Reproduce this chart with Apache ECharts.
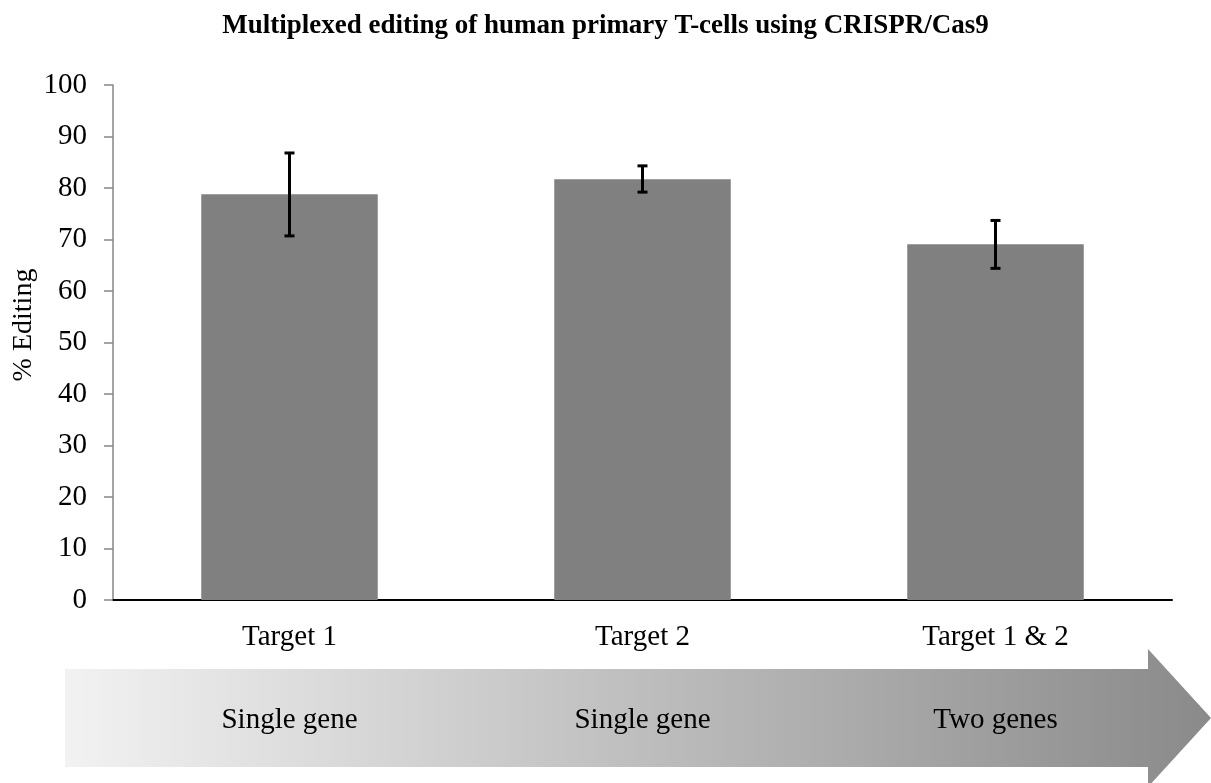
<!DOCTYPE html>
<html>
<head>
<meta charset="utf-8">
<script src="https://cdn.jsdelivr.net/npm/echarts@6/dist/echarts.min.js"></script>
<style>
  html, body { margin: 0; padding: 0; background: #fff; }
  #chart { width: 1211px; height: 783px; }
</style>
</head>
<body>
<div id="chart"></div>
<script>
// data
var categories = ['Target 1', 'Target 2', 'Target 1 & 2'];
var editing = [78.8, 81.7, 69.1];
var errLow = [70.7, 79.2, 64.4];
var errHigh = [86.8, 84.3, 73.7];
var groupLabels = ['Single gene', 'Single gene', 'Two genes'];
var yTicks = [0, 10, 20, 30, 40, 50, 60, 70, 80, 90, 100];

var serif = 'Liberation Serif';
var myChart = echarts.init(document.getElementById('chart'));

var errData = categories.map(function (c, i) {
  return [i, errLow[i], errHigh[i]];
});

myChart.setOption({
  animation: false,
  title: {
    text: 'Multiplexed editing of human primary T-cells using CRISPR/Cas9',
    left: 'center',
    top: 8,
    textStyle: { fontFamily: serif, fontWeight: 'bold', fontSize: 27, color: '#000' }
  },
  grid: { left: 113, right: 39, top: 85, bottom: 183, outerBoundsMode: 'none', containLabel: false },
  graphic: [
    {
      type: 'polygon',
      z: -1,
      shape: {
        points: [[65, 669], [1148, 669], [1148, 649], [1211, 718], [1148, 787], [1148, 767], [65, 767]]
      },
      style: {
        fill: new echarts.graphic.LinearGradient(0, 0, 1, 0, [
          { offset: 0, color: '#f2f2f2' },
          { offset: 1, color: '#8a8a8a' }
        ])
      }
    },
    {
      // y axis title
      type: 'text',
      x: 24,
      y: 325,
      rotation: Math.PI / 2,
      style: {
        text: '% Editing',
        font: '28px "Liberation Serif"',
        fill: '#000',
        align: 'center',
        verticalAlign: 'middle'
      }
    }
  ],
  xAxis: [
    {
      type: 'category',
      data: categories,
      axisTick: { show: false },
      axisLine: { lineStyle: { color: '#000', width: 2 } },
      axisLabel: { fontFamily: serif, fontSize: 29, color: '#000', margin: 23 }
    },
    {
      type: 'category',
      data: groupLabels,
      position: 'bottom',
      offset: 106,
      axisTick: { show: false },
      axisLine: { show: false },
      axisLabel: { fontFamily: serif, fontSize: 29, color: '#000', margin: 0 }
    }
  ],
  yAxis: {
    type: 'value',
    min: 0,
    max: 100,
    interval: 10,
    splitLine: { show: false },
    axisLine: { show: true, lineStyle: { color: '#868686', width: 1.5 } },
    axisTick: { show: true, length: 9, lineStyle: { color: '#868686', width: 1.5 } },
    axisLabel: {
      fontFamily: serif, fontSize: 29, color: '#000', margin: 26,
      formatter: function (v) { return yTicks.indexOf(v) >= 0 ? String(v) : ''; }
    }
  },
  series: [
    {
      type: 'bar',
      data: editing,
      barWidth: '50%',
      itemStyle: { color: '#808080' }
    },
    {
      type: 'custom',
      data: errData,
      z: 10,
      renderItem: function (params, api) {
        var x = api.value(0);
        var lo = api.coord([x, api.value(1)]);
        var hi = api.coord([x, api.value(2)]);
        var cap = 5;
        var st = { stroke: '#000', lineWidth: 3 };
        return {
          type: 'group',
          children: [
            { type: 'line', shape: { x1: hi[0], y1: hi[1], x2: lo[0], y2: lo[1] }, style: st },
            { type: 'line', shape: { x1: hi[0] - cap, y1: hi[1], x2: hi[0] + cap, y2: hi[1] }, style: st },
            { type: 'line', shape: { x1: lo[0] - cap, y1: lo[1], x2: lo[0] + cap, y2: lo[1] }, style: st }
          ]
        };
      }
    }
  ]
});
</script>
</body>
</html>
